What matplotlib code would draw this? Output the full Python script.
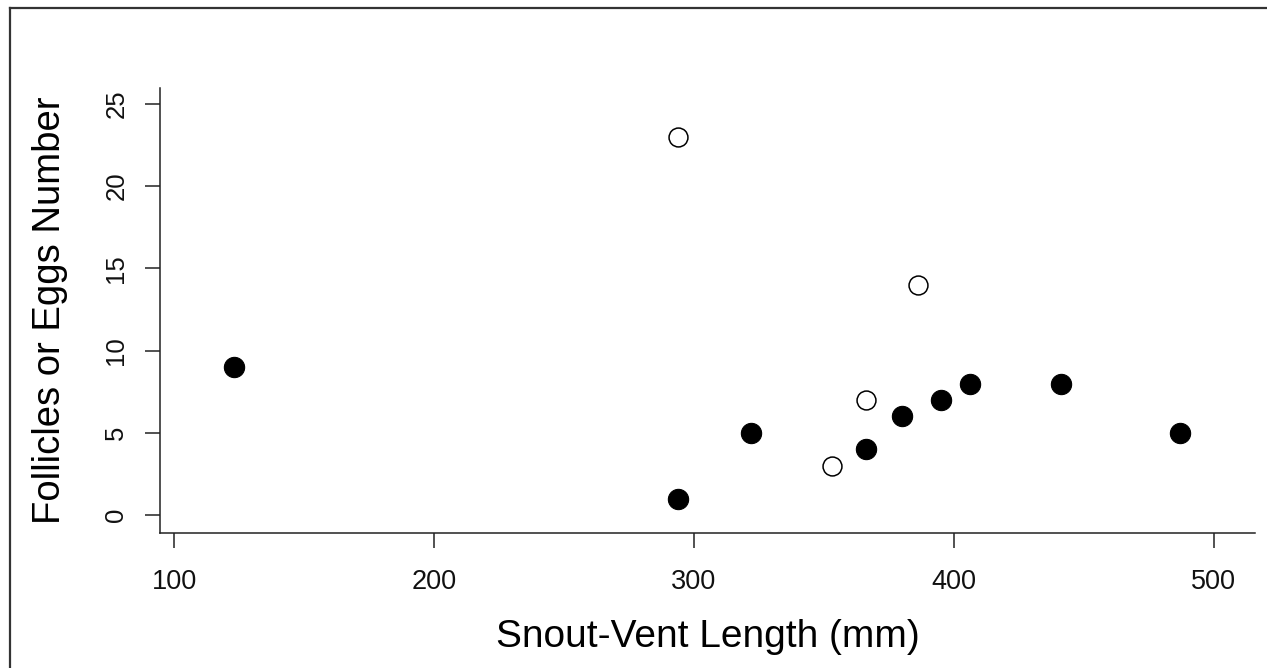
import matplotlib
matplotlib.use("Agg")
import matplotlib.pyplot as plt
from matplotlib.lines import Line2D

# Data
filled_svl = [123, 294, 322, 366, 380, 395, 406, 441, 487]
filled_count = [9, 1, 5, 4, 6, 7, 8, 8, 5]
open_svl = [294, 386, 366, 353]
open_count = [23, 14, 7, 3]
x_ticks = [100, 200, 300, 400, 500]
y_ticks = [0, 5, 10, 15, 20, 25]
x_label = "Snout-Vent Length (mm)"
y_label = "Follicles or Eggs Number"

plt.rcParams['font.family'] = ['Liberation Sans', 'DejaVu Sans']

W, H = 1267, 668
fig = plt.figure(figsize=(W / 100, H / 100), dpi=100)
ax = fig.add_axes([160 / W, 1 - 533 / H, (1255 - 160) / W, (533 - 88) / H])

ax.plot(filled_svl, filled_count, linestyle='none', marker='o', markersize=14.6,
        markerfacecolor='black', markeredgecolor='black', markeredgewidth=0.8)
ax.plot(open_svl, open_count, linestyle='none', marker='o', markersize=13.6,
        markerfacecolor='white', markeredgecolor='black', markeredgewidth=1.1)

ax.set_xlim(94.6, 515.8)
ax.set_ylim(-1.09, 25.97)
ax.set_xticks(x_ticks)
ax.set_yticks(y_ticks)
ax.set_xticklabels([str(v) for v in x_ticks])
ax.set_yticklabels([str(v) for v in y_ticks])

for s in ['top', 'right']:
    ax.spines[s].set_visible(False)
for s in ['left', 'bottom']:
    ax.spines[s].set_color('#222222')
    ax.spines[s].set_linewidth(1.1)

ax.tick_params(axis='both', direction='out', length=10.8, width=1.1, color='#222222',
               labelcolor='#111111')
ax.tick_params(axis='x', pad=15, labelsize=19.5)
ax.tick_params(axis='y', pad=12, labelrotation=90, labelsize=18.5)
for lab in ax.get_yticklabels():
    lab.set_verticalalignment('center')

ax.set_xlabel(x_label, fontsize=28, color='black')
ax.xaxis.set_label_coords(0.5, (533 - 637) / 445)
ax.xaxis.label.set_verticalalignment('center')
ax.set_ylabel(y_label, fontsize=27.5, color='black')
ax.yaxis.set_label_coords((50 - 160) / 1095, 0.5)
ax.yaxis.label.set_verticalalignment('center')

# Outer device border (only left and top edges visible)
fig.add_artist(Line2D([10 / W, 10 / W], [0, 1 - 8 / H], transform=fig.transFigure,
                      color='#333333', linewidth=1.6))
fig.add_artist(Line2D([10 / W, 1], [1 - 8 / H, 1 - 8 / H], transform=fig.transFigure,
                      color='#333333', linewidth=1.6))

fig.savefig("out.png", dpi=100)
